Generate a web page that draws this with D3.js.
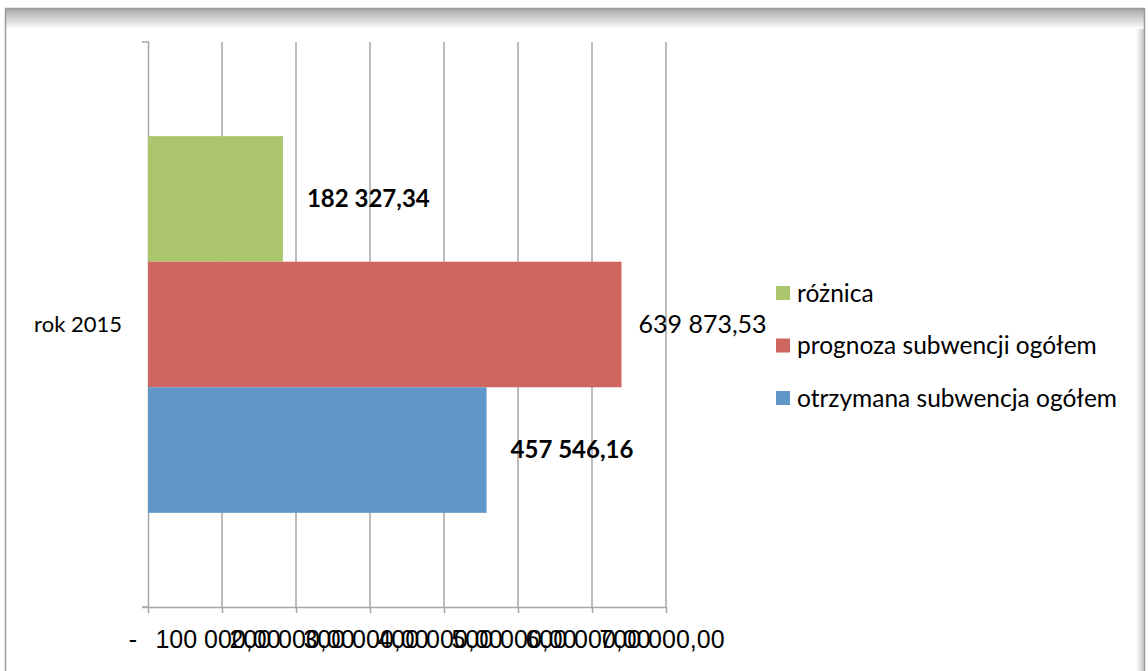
<!DOCTYPE html>
<html>
<head>
<meta charset="utf-8">
<script src="https://cdn.jsdelivr.net/npm/d3@7"></script>
<style>
  body { margin: 0; background: #fff; }
  text { font-family: Lato, "Noto Sans", sans-serif; fill: #000; }
  .tick-label { font-family: "Liberation Sans", Arial, sans-serif; }
</style>
</head>
<body>
<svg id="svg" width="1148" height="671"></svg>
<script>
// chart values
var categories = ["rok 2015"];
var seriesNames = ["różnica", "prognoza subwencji ogółem", "otrzymana subwencja ogółem"];
var seriesValues = [182327.34, 639873.53, 457546.16];
var seriesColors = ["#abc56c", "#cf665f", "#6096c8"];
var labelBold = [true, false, true];
var tickValues = [0, 100000, 200000, 300000, 400000, 500000, 600000, 700000];

var svg = d3.select("#svg");

var plot = { left: 148, right: 666, top: 42, bottom: 607 };

var pl = d3.formatLocale({ decimal: ",", thousands: " ", grouping: [3], currency: ["", ""] });
var fmt = pl.format(",.2f");

// frame with soft shadow on top and right
var defs = svg.append("defs");
var gTop = defs.append("linearGradient").attr("id", "shTop")
  .attr("x1", 0).attr("y1", 0).attr("x2", 0).attr("y2", 1);
gTop.append("stop").attr("offset", "0%").attr("stop-color", "#a8a8a8");
gTop.append("stop").attr("offset", "100%").attr("stop-color", "#ffffff");
var gRight = defs.append("linearGradient").attr("id", "shRight")
  .attr("x1", 0).attr("y1", 0).attr("x2", 1).attr("y2", 0);
gRight.append("stop").attr("offset", "0%").attr("stop-color", "#ffffff");
gRight.append("stop").attr("offset", "100%").attr("stop-color", "#c8c8c8");

svg.append("rect")
  .attr("x", 1136).attr("y", 9).attr("width", 8).attr("height", 670)
  .style("fill", "url(#shRight)");
svg.append("rect")
  .attr("x", 5).attr("y", 9).attr("width", 1139).attr("height", 20)
  .style("fill", "url(#shTop)");
svg.append("path")
  .attr("d", "M5.5,680V8.5H1144.5V680")
  .style("fill", "none").style("stroke", "#9a9a9a").style("stroke-width", 1.5);

// scales
var x = d3.scaleLinear().domain([0, 700000]).range([plot.left, plot.right]);
var yCat = d3.scaleBand().domain(categories).range([plot.top, plot.bottom]);
var ySer = d3.scaleBand().domain(seriesNames)
  .range([0, yCat.bandwidth()]).paddingInner(0).paddingOuter(0.75);

// gridlines
svg.append("g").selectAll("line")
  .data(tickValues.slice(1))
  .enter().append("line")
  .attr("x1", d => x(d)).attr("x2", d => x(d))
  .attr("y1", plot.top).attr("y2", plot.bottom)
  .style("stroke", "#a6a6a6").style("stroke-width", 1.5);

// value axis
var xAxis = svg.append("g")
  .attr("transform", "translate(0," + plot.bottom + ")")
  .call(d3.axisBottom(x).tickValues(tickValues).tickSize(6).tickFormat(""));
xAxis.select(".domain").attr("d", "M" + (plot.left - 6) + ",0.5H" + x(700000))
  .style("stroke", "#a6a6a6").style("stroke-width", 1.5);
xAxis.selectAll(".tick line").style("stroke", "#a6a6a6").style("stroke-width", 1.5);

// tick labels are padded like an accounting format, so they sit left of the tick
svg.append("g").selectAll("text")
  .data(tickValues)
  .enter().append("text")
  .classed("tick-label", true)
  .attr("x", d => x(d) - (d === 0 ? 15 : 4))
  .attr("y", 648)
  .attr("text-anchor", "middle")
  .style("font-size", "25px")
  .text(d => d === 0 ? "-" : fmt(d));

// category axis
var yAxis = svg.append("g")
  .attr("transform", "translate(" + plot.left + ",0)")
  .call(d3.axisLeft(yCat).tickSize(0).tickFormat(""));
yAxis.select(".domain").attr("d", "M-6," + plot.top + "H0.5V" + plot.bottom + "H-6")
  .style("stroke", "#a6a6a6").style("stroke-width", 1.5).style("fill", "none");

svg.append("g").selectAll("text")
  .data(categories)
  .enter().append("text")
  .attr("x", 122)
  .attr("y", d => yCat(d) + yCat.bandwidth() / 2)
  .attr("dy", "0.35em")
  .attr("text-anchor", "end")
  .style("font-size", "22px")
  .text(d => d);

// bars
var barG = svg.append("g");
barG.selectAll("rect")
  .data(seriesNames)
  .enter().append("rect")
  .attr("x", x(0))
  .attr("y", d => yCat(categories[0]) + ySer(d))
  .attr("width", (d, i) => x(seriesValues[i]) - x(0))
  .attr("height", ySer.bandwidth())
  .style("fill", (d, i) => seriesColors[i]);

// data labels
barG.selectAll("text")
  .data(seriesNames)
  .enter().append("text")
  .attr("x", (d, i) => x(seriesValues[i]) + (labelBold[i] ? 24 : 17))
  .attr("y", d => yCat(categories[0]) + ySer(d) + ySer.bandwidth() / 2)
  .attr("dy", "0.35em")
  .style("font-size", (d, i) => labelBold[i] ? "24px" : "25px")
  .style("font-weight", (d, i) => labelBold[i] ? "bold" : "normal")
  .text((d, i) => fmt(seriesValues[i]));

// legend
var legend = svg.append("g").selectAll("g")
  .data(seriesNames)
  .enter().append("g")
  .attr("transform", (d, i) => "translate(776," + (293 + i * 52.5) + ")");
legend.append("rect")
  .attr("x", 0).attr("y", -7)
  .attr("width", 14).attr("height", 14)
  .style("fill", (d, i) => seriesColors[i]);
legend.append("text")
  .attr("x", 21).attr("y", 0)
  .attr("dy", "0.35em")
  .style("font-size", "24.5px")
  .text(d => d);
</script>
</body>
</html>
